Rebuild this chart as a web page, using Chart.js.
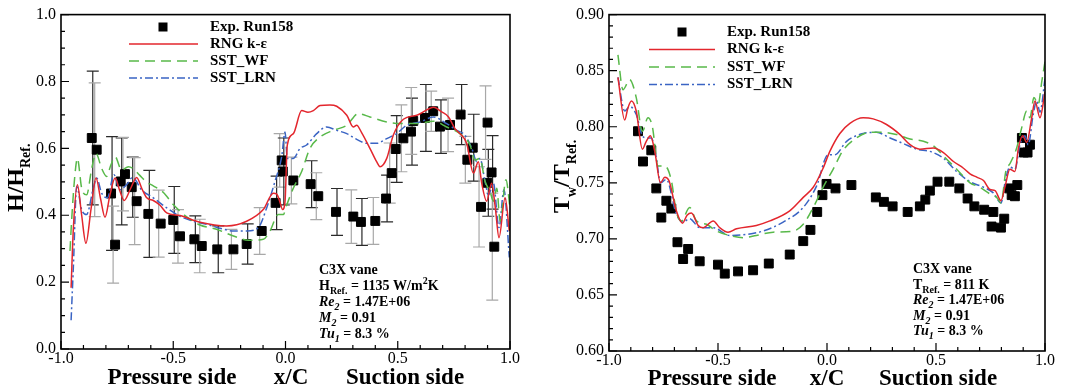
<!DOCTYPE html>
<html>
<head>
<meta charset="utf-8">
<script src="https://cdn.jsdelivr.net/npm/chart.js@4.4.1/dist/chart.umd.min.js"></script>
<style>
  body { margin: 0; background: #fff; }
  canvas { position: absolute; top: 0; }
  #hChart { left: 0; }
  #tChart { left: 530px; }
</style>
</head>
<body>
<canvas id="hChart" width="530" height="392"></canvas>
<canvas id="tChart" width="540" height="392"></canvas>
<script>
// Series names (legend)
const seriesNames = ['Exp. Run158', 'RNG k-\u03b5', 'SST_WF', 'SST_LRN'];

// Tick labels
const xTicks = [-1.0, -0.5, 0.0, 0.5, 1.0];
const hTicks = [0.0, 0.2, 0.4, 0.6, 0.8, 1.0];
const tTicks = [0.60, 0.65, 0.70, 0.75, 0.80, 0.85, 0.90];

// ---- Left panel: H/H_Ref ----
const hExpX = [-0.863,-0.841,-0.777,-0.759,-0.734,-0.715,-0.685,-0.663,-0.611,-0.556,-0.500,-0.470,-0.406,-0.373,-0.304,-0.232,-0.173,-0.106,-0.044,-0.017,-0.012,0.035,0.112,0.146,0.225,0.302,0.336,0.400,0.448,0.473,0.491,0.525,0.559,0.569,0.621,0.658,0.688,0.733,0.780,0.810,0.834,0.871,0.899,0.900,0.918,0.930];
const hExpY = [0.631,0.596,0.465,0.312,0.501,0.523,0.484,0.442,0.404,0.375,0.386,0.337,0.328,0.308,0.298,0.298,0.314,0.353,0.437,0.564,0.531,0.504,0.493,0.457,0.410,0.396,0.380,0.383,0.450,0.526,0.598,0.630,0.650,0.682,0.691,0.711,0.665,0.670,0.701,0.566,0.602,0.425,0.497,0.677,0.528,0.306];
const hExpErr = [0.20,0.20,0.17,0.115,0.13,0.11,0.09,0.13,0.13,0.10,0.10,0.08,0.07,0.08,0.07,0.06,0.06,0.07,0.08,0.08,0.10,0.07,0.07,0.07,0.07,0.08,0.07,0.07,0.07,0.09,0.10,0.10,0.10,0.10,0.10,0.06,0.08,0.08,0.09,0.07,0.10,0.12,0.10,0.11,0.11,0.16];

const hRngX = [-0.955,-0.945,-0.927,-0.908,-0.889,-0.866,-0.844,-0.824,-0.804,-0.782,-0.759,-0.739,-0.719,-0.69,-0.663,-0.64,-0.618,-0.589,-0.559,-0.529,-0.47,-0.381,-0.262,-0.173,-0.099,-0.054,-0.039,-0.025,-0.013,-0.002,0.008,0.035,0.072,0.1,0.124,0.154,0.198,0.228,0.273,0.302,0.317,0.339,0.376,0.406,0.421,0.451,0.48,0.525,0.585,0.629,0.659,0.696,0.726,0.755,0.777,0.807,0.837,0.859,0.874,0.896,0.918,0.935,0.951,0.978,0.997];
const hRngY = [0.183,0.36,0.491,0.40,0.316,0.42,0.511,0.45,0.394,0.46,0.511,0.475,0.444,0.48,0.513,0.48,0.452,0.444,0.430,0.407,0.399,0.379,0.368,0.382,0.417,0.466,0.463,0.44,0.417,0.442,0.610,0.644,0.713,0.708,0.713,0.728,0.730,0.726,0.699,0.664,0.669,0.647,0.600,0.560,0.545,0.570,0.639,0.687,0.699,0.715,0.723,0.709,0.694,0.659,0.644,0.615,0.526,0.560,0.496,0.442,0.496,0.42,0.333,0.452,0.353];

const hWfX = [-0.960,-0.952,-0.938,-0.927,-0.908,-0.886,-0.863,-0.844,-0.819,-0.797,-0.778,-0.759,-0.730,-0.700,-0.680,-0.650,-0.620,-0.589,-0.544,-0.500,-0.440,-0.381,-0.307,-0.232,-0.165,-0.099,-0.069,-0.032,-0.010,0.005,0.035,0.072,0.109,0.154,0.213,0.273,0.324,0.376,0.451,0.510,0.585,0.659,0.718,0.777,0.822,0.844,0.866,0.889,0.911,0.926,0.941,0.956,0.982,1.0];
const hWfY = [0.293,0.392,0.521,0.570,0.481,0.461,0.540,0.585,0.540,0.516,0.55,0.575,0.535,0.545,0.54,0.52,0.50,0.488,0.468,0.432,0.395,0.371,0.358,0.338,0.325,0.328,0.353,0.402,0.402,0.43,0.481,0.531,0.600,0.634,0.654,0.669,0.704,0.694,0.679,0.674,0.674,0.681,0.664,0.644,0.610,0.565,0.570,0.501,0.471,0.442,0.481,0.382,0.506,0.422];

const hLrnX = [-0.955,-0.945,-0.930,-0.908,-0.886,-0.856,-0.841,-0.819,-0.794,-0.764,-0.738,-0.708,-0.681,-0.641,-0.589,-0.529,-0.470,-0.411,-0.351,-0.292,-0.232,-0.173,-0.121,-0.084,-0.047,-0.017,-0.002,0.008,0.035,0.065,0.094,0.139,0.183,0.228,0.273,0.317,0.362,0.406,0.451,0.495,0.54,0.6,0.659,0.718,0.763,0.800,0.830,0.852,0.866,0.889,0.904,0.926,0.951,0.973,0.997];
const hLrnY = [0.086,0.244,0.486,0.417,0.402,0.481,0.511,0.466,0.452,0.521,0.476,0.491,0.513,0.476,0.452,0.422,0.397,0.382,0.373,0.361,0.353,0.353,0.363,0.422,0.501,0.575,0.649,0.570,0.570,0.600,0.610,0.644,0.664,0.654,0.644,0.627,0.615,0.615,0.629,0.644,0.669,0.679,0.694,0.674,0.654,0.639,0.600,0.560,0.570,0.501,0.461,0.496,0.363,0.476,0.274];

// ---- Right panel: Tw/T_Ref ----
const tExpX = [-0.867,-0.844,-0.806,-0.783,-0.760,-0.737,-0.714,-0.686,-0.660,-0.637,-0.584,-0.500,-0.469,-0.408,-0.339,-0.267,-0.171,-0.109,-0.076,-0.045,-0.021,-0.002,0.039,0.112,0.224,0.261,0.301,0.370,0.426,0.451,0.472,0.507,0.561,0.607,0.645,0.676,0.721,0.763,0.755,0.798,0.813,0.836,0.847,0.862,0.873,0.894,0.903,0.920,0.931];
const tExpY = [0.796,0.769,0.779,0.745,0.719,0.734,0.727,0.697,0.682,0.691,0.680,0.677,0.669,0.671,0.672,0.678,0.686,0.698,0.708,0.724,0.739,0.749,0.745,0.748,0.737,0.733,0.729,0.724,0.729,0.735,0.743,0.751,0.751,0.745,0.736,0.729,0.726,0.724,0.711,0.710,0.718,0.745,0.739,0.738,0.748,0.790,0.777,0.777,0.784];

const tRngX = [-0.959,-0.928,-0.913,-0.897,-0.875,-0.847,-0.829,-0.810,-0.790,-0.764,-0.744,-0.725,-0.691,-0.663,-0.642,-0.622,-0.591,-0.568,-0.522,-0.492,-0.454,-0.415,-0.324,-0.262,-0.171,-0.109,-0.063,-0.018,0.013,0.059,0.105,0.166,0.212,0.273,0.335,0.381,0.426,0.488,0.534,0.580,0.626,0.656,0.687,0.718,0.748,0.771,0.798,0.816,0.839,0.862,0.878,0.898,0.916,0.939,0.954,0.977,1.0];
const tRngY = [0.844,0.806,0.817,0.823,0.814,0.780,0.787,0.792,0.778,0.750,0.755,0.752,0.725,0.714,0.721,0.723,0.712,0.710,0.716,0.710,0.706,0.709,0.712,0.716,0.725,0.737,0.746,0.763,0.778,0.794,0.803,0.808,0.807,0.802,0.793,0.784,0.780,0.781,0.777,0.769,0.763,0.758,0.755,0.752,0.744,0.743,0.734,0.746,0.762,0.760,0.781,0.792,0.786,0.808,0.823,0.808,0.831];

const tWfX = [-0.959,-0.936,-0.905,-0.875,-0.847,-0.821,-0.801,-0.775,-0.744,-0.714,-0.691,-0.668,-0.630,-0.599,-0.553,-0.507,-0.446,-0.385,-0.324,-0.247,-0.155,-0.109,-0.063,-0.018,0.028,0.074,0.135,0.197,0.258,0.319,0.381,0.442,0.488,0.534,0.595,0.656,0.702,0.748,0.778,0.798,0.821,0.839,0.870,0.893,0.916,0.931,0.949,0.969,0.985,1.0];
const tWfY = [0.864,0.833,0.842,0.826,0.796,0.808,0.800,0.765,0.765,0.752,0.724,0.716,0.728,0.716,0.713,0.707,0.703,0.701,0.703,0.706,0.707,0.713,0.728,0.746,0.762,0.779,0.790,0.795,0.795,0.793,0.789,0.787,0.783,0.774,0.762,0.750,0.746,0.740,0.737,0.732,0.761,0.767,0.781,0.799,0.814,0.808,0.826,0.820,0.840,0.858];

const tLrnX = [-0.959,-0.928,-0.905,-0.875,-0.847,-0.829,-0.806,-0.783,-0.764,-0.737,-0.691,-0.660,-0.630,-0.584,-0.522,-0.446,-0.369,-0.293,-0.201,-0.109,-0.048,0.005,0.036,0.090,0.166,0.227,0.289,0.350,0.411,0.472,0.534,0.595,0.656,0.718,0.763,0.798,0.821,0.839,0.862,0.885,0.908,0.923,0.946,0.962,0.977,1.0];
const tLrnY = [0.844,0.814,0.818,0.811,0.792,0.790,0.790,0.772,0.750,0.753,0.722,0.715,0.718,0.710,0.710,0.703,0.704,0.707,0.715,0.728,0.747,0.775,0.775,0.787,0.794,0.795,0.790,0.785,0.780,0.778,0.772,0.760,0.751,0.746,0.741,0.732,0.755,0.764,0.762,0.784,0.792,0.784,0.811,0.823,0.813,0.843];

const SERIF = "'Liberation Serif', 'Times New Roman', serif";
const RED = '#e3262d', GREEN = '#58b94a', BLUE = '#3a64c4';
const DASH_WF = [10, 6], DASH_LRN = [8, 3, 2, 3];

Chart.defaults.font.family = SERIF;
Chart.defaults.color = '#000';

const pts = (xs, ys) => xs.map((x, i) => ({ x: x, y: ys[i] }));

// draw a line of text made of runs: [text, kind] kind: '', 'i', 'sub', 'isub', 'sup'
function drawRuns(ctx, x, y, runs, size) {
  let cx = x;
  runs.forEach(([txt, kind]) => {
    const small = kind === 'sub' || kind === 'isub' || kind === 'sup';
    const it = kind === 'i' || kind === 'isub';
    const fs = small ? Math.round(size * 0.7) : size;
    ctx.font = (it ? 'italic ' : '') + 'bold ' + fs + 'px ' + SERIF;
    let dy = 0;
    if (kind === 'sub' || kind === 'isub') dy = size * 0.3;
    if (kind === 'sup') dy = -size * 0.4;
    ctx.fillText(txt, cx, y + dy);
    cx += ctx.measureText(txt).width;
  });
}

function makePanel(id, o) {
  const datasets = [
    { label: seriesNames[1], data: pts(o.rngX, o.rngY), borderColor: RED, borderWidth: 1.5, order: 0 },
    { label: seriesNames[2], data: pts(o.wfX, o.wfY), borderColor: GREEN, borderWidth: 1.5, borderDash: DASH_WF, order: 0 },
    { label: seriesNames[3], data: pts(o.lrnX, o.lrnY), borderColor: BLUE, borderWidth: 1.5, borderDash: DASH_LRN, order: 0 },
    { label: seriesNames[0], data: pts(o.expX, o.expY), showLine: false, pointStyle: 'rect',
      pointRadius: 6.3, backgroundColor: '#000', borderColor: '#000', borderWidth: 1, order: 1 }
  ];
  datasets.slice(0, 3).forEach(d => {
    d.showLine = true; d.pointRadius = 0; d.fill = false; d.cubicInterpolationMode = 'monotone';
  });

  const decorations = {
    id: 'decorations',
    beforeDatasetsDraw(chart) {
      if (!o.expErr) return;
      const ctx = chart.ctx, xs = chart.scales.x, ys = chart.scales.y;
      ctx.save();
      ctx.lineWidth = 1.2;
      o.expX.forEach((xv, i) => {
        const px = xs.getPixelForValue(xv) + (i % 2 ? -2 : 1);
        const top = ys.getPixelForValue(o.expY[i] + o.expErr[i]);
        const bot = ys.getPixelForValue(o.expY[i] - o.expErr[i]);
        ctx.strokeStyle = i % 2 ? '#a8a8a8' : '#2a2a2a';
        ctx.beginPath();
        ctx.moveTo(px, top); ctx.lineTo(px, bot);
        ctx.moveTo(px - 6, top); ctx.lineTo(px + 6, top);
        ctx.moveTo(px - 6, bot); ctx.lineTo(px + 6, bot);
        ctx.stroke();
      });
      ctx.restore();
    },
    afterDraw(chart) {
      const ctx = chart.ctx, a = chart.chartArea, xs = chart.scales.x, ys = chart.scales.y;
      ctx.save();
      // frame
      ctx.strokeStyle = '#000';
      ctx.lineWidth = 1.6;
      ctx.setLineDash([]);
      ctx.strokeRect(a.left, a.top, a.right - a.left, a.bottom - a.top);
      // inside ticks
      ctx.lineWidth = 1.2;
      ctx.beginPath();
      for (let k = 0; k <= 20; k++) {
        const v = -1 + k * 0.1;
        const px = xs.getPixelForValue(v);
        const len = k % 5 === 0 ? 8 : 4;
        ctx.moveTo(px, a.bottom); ctx.lineTo(px, a.bottom - len);
      }
      const nMinor = Math.round((o.yMax - o.yMin) / o.yMinor);
      for (let k = 0; k <= nMinor; k++) {
        const v = o.yMin + k * o.yMinor;
        const py = ys.getPixelForValue(v);
        const len = k % o.yPerMajor === 0 ? 8 : 4;
        ctx.moveTo(a.left, py); ctx.lineTo(a.left + len, py);
      }
      ctx.stroke();

      // legend
      const L = o.legend;
      ctx.fillStyle = '#000';
      ctx.fillRect(L.mx - 4.5, L.rows[0] - 4.5, 9, 9);
      const styles = [[RED, []], [GREEN, DASH_WF], [BLUE, DASH_LRN]];
      styles.forEach(([c, d], k) => {
        ctx.strokeStyle = c; ctx.lineWidth = 1.5; ctx.setLineDash(d);
        ctx.beginPath();
        ctx.moveTo(L.x0, L.rows[k + 1]); ctx.lineTo(L.x1, L.rows[k + 1]);
        ctx.stroke();
      });
      ctx.setLineDash([]);
      ctx.font = 'bold 15px ' + SERIF;
      ctx.textBaseline = 'middle';
      ctx.textAlign = 'left';
      seriesNames.forEach((s, k) => ctx.fillText(s, L.tx, L.rows[k]));

      // annotation block
      ctx.textBaseline = 'alphabetic';
      o.note.lines.forEach((runs, k) => drawRuns(ctx, o.note.x, o.note.y0 + k * o.note.dy, runs, 14));

      // x title
      ctx.font = 'bold 23px ' + SERIF;
      ctx.textAlign = 'center';
      ctx.fillText('Pressure side', o.xt[0], o.xtY);
      ctx.fillText('x/C', o.xt[1], o.xtY);
      ctx.fillText('Suction side', o.xt[2], o.xtY);

      // y title (rotated)
      ctx.translate(o.yt.x, o.yt.y);
      ctx.rotate(-Math.PI / 2);
      ctx.textAlign = 'left';
      let cx = 0;
      o.yt.runs.forEach(([txt, sub]) => {
        ctx.font = 'bold ' + (sub ? 14 : 24) + 'px ' + SERIF;
        ctx.fillText(txt, cx, sub ? 7 : 0);
        cx += ctx.measureText(txt).width;
      });
      ctx.restore();
    }
  };

  return new Chart(document.getElementById(id), {
    type: 'scatter',
    data: { datasets: datasets },
    options: {
      responsive: false,
      animation: false,
      devicePixelRatio: 1,
      layout: { padding: { left: 0, top: o.padTop, right: o.padRight, bottom: 0 } },
      plugins: { legend: { display: false }, tooltip: { enabled: false } },
      scales: {
        x: {
          type: 'linear', min: -1, max: 1,
          grid: { display: false, drawTicks: false },
          border: { display: false },
          ticks: { color: '#000', padding: 0, maxRotation: 0, autoSkip: false,
                   font: { family: SERIF, size: 16, weight: 'normal' }, callback: v => v.toFixed(1) },
          afterBuildTicks: s => { s.ticks = xTicks.map(v => ({ value: v })); },
          afterFit: s => { s.height = o.xH; }
        },
        y: {
          type: 'linear', min: o.yMin, max: o.yMax,
          grid: { display: false, drawTicks: false },
          border: { display: false },
          ticks: { color: '#000', padding: 5, autoSkip: false,
                   font: { family: SERIF, size: 16, weight: 'normal' }, callback: v => v.toFixed(o.dec) },
          afterBuildTicks: s => { s.ticks = o.yTicks.map(v => ({ value: v })); },
          afterFit: s => { s.width = o.yW; }
        }
      }
    },
    plugins: [decorations]
  });
}

makePanel('hChart', {
  expX: hExpX, expY: hExpY, expErr: hExpErr,
  rngX: hRngX, rngY: hRngY, wfX: hWfX, wfY: hWfY, lrnX: hLrnX, lrnY: hLrnY,
  yMin: 0, yMax: 1, yTicks: hTicks, dec: 1, yMinor: 0.05, yPerMajor: 4,
  padTop: 12, padRight: 20, xH: 43, yW: 61,
  legend: { mx: 163, tx: 210, x0: 129, x1: 198, rows: [27, 44, 61, 78] },
  note: { x: 319, y0: 274, dy: 16, lines: [
    [['C3X vane', '']],
    [['H', ''], ['Ref.', 'sub'], [' = 1135 W/m', ''], ['2', 'sup'], ['K', '']],
    [['Re', 'i'], ['2', 'isub'], [' = 1.47E+06', '']],
    [['M', 'i'], ['2', 'isub'], [' = 0.91', '']],
    [['Tu', 'i'], ['1', 'isub'], [' = 8.3 %', '']]
  ] },
  xt: [172, 291, 405], xtY: 384,
  yt: { x: 23, y: 212, runs: [['H/H', false], ['Ref.', true]] }
});

makePanel('tChart', {
  expX: tExpX, expY: tExpY, expErr: null,
  rngX: tRngX, rngY: tRngY, wfX: tWfX, wfY: tWfY, lrnX: tLrnX, lrnY: tLrnY,
  yMin: 0.6, yMax: 0.9, yTicks: tTicks, dec: 2, yMinor: 0.01, yPerMajor: 5,
  padTop: 13, padRight: 25, xH: 41, yW: 79,
  legend: { mx: 152, tx: 197, x0: 119, x1: 185, rows: [32, 49.5, 67, 84.5] },
  note: { x: 383, y0: 273, dy: 15.5, lines: [
    [['C3X vane', '']],
    [['T', ''], ['Ref.', 'sub'], [' = 811 K', '']],
    [['Re', 'i'], ['2', 'isub'], [' = 1.47E+06', '']],
    [['M', 'i'], ['2', 'isub'], [' = 0.91', '']],
    [['Tu', 'i'], ['1', 'isub'], [' = 8.3 %', '']]
  ] },
  xt: [182, 297, 408], xtY: 385,
  yt: { x: 39, y: 213, runs: [['T', false], ['w', true], ['/T', false], ['Ref.', true]] }
});
</script>
</body>
</html>
